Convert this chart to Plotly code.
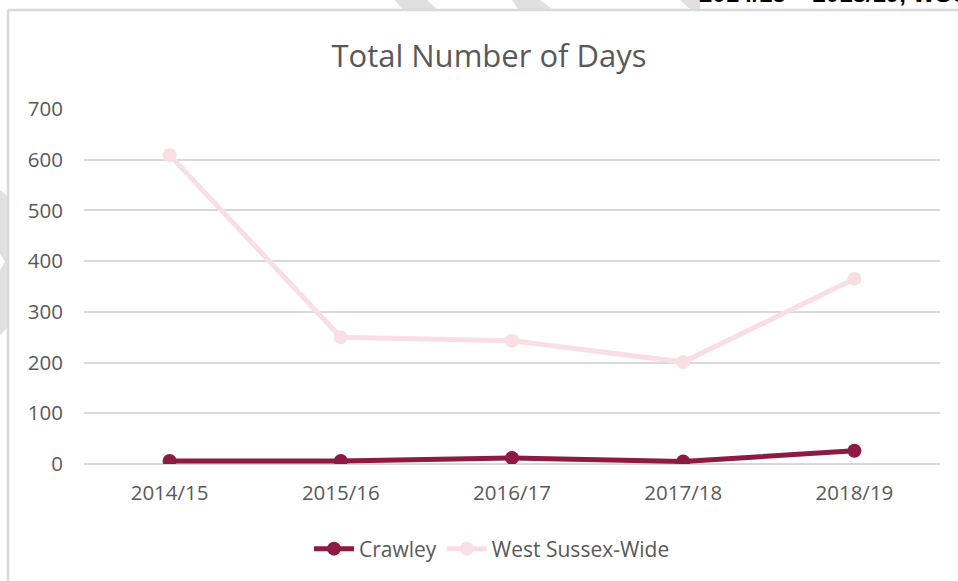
import plotly.graph_objects as go

categories = ["2014/15", "2015/16", "2016/17", "2017/18", "2018/19"]
crawley = [6, 6, 12, 5, 26]
west_sussex = [609, 250, 243, 201, 365]
y_ticks = [0, 100, 200, 300, 400, 500, 600, 700]

W, H = 958, 581
L, R, T, B = 84, 18, 109, 117
pw, ph = W - L - R, H - T - B

def px(x):
    return (x - L) / pw

def py(y):
    return (H - B - y) / ph

fig = go.Figure()
fig.add_trace(go.Scatter(
    x=categories, y=crawley, name="Crawley", mode="lines+markers",
    line=dict(color="#8C1A42", width=5),
    marker=dict(size=14, color="#8C1A42"),
))
fig.add_trace(go.Scatter(
    x=categories, y=west_sussex, name="West Sussex-Wide", mode="lines+markers",
    line=dict(color="#F9DEE6", width=5),
    marker=dict(size=14, color="#F9DEE6"),
))

font_family = "Open Sans"
grey = "#595959"

# frame of chart area
fig.add_shape(type="line", xref="paper", yref="paper",
              x0=px(8), x1=px(W + 10), y0=py(10), y1=py(10),
              line=dict(color="#D9D9D9", width=2.5), layer="above")
fig.add_shape(type="line", xref="paper", yref="paper",
              x0=px(8), x1=px(8), y0=py(10), y1=py(H + 10),
              line=dict(color="#D9D9D9", width=2.5), layer="above")
# watermark fragments outside the frame
fig.add_shape(type="path", xref="paper", yref="paper",
              path=f"M {px(0)} {py(190)} L {px(7)} {py(196)} L {px(7)} {py(328)} L {px(0)} {py(335)} L {px(0)} {py(270)} L {px(5)} {py(262)} L {px(0)} {py(254)} Z",
              fillcolor="#E0E0E0", line=dict(width=0), layer="below")
fig.add_shape(type="path", xref="paper", yref="paper",
              path=f"M {px(395)} {py(0)} L {px(427)} {py(0)} L {px(437)} {py(9)} L {px(402)} {py(9)} Z",
              fillcolor="#E0E0E0", line=dict(width=0), layer="below")
fig.add_shape(type="path", xref="paper", yref="paper",
              path=f"M {px(512)} {py(0)} L {px(540)} {py(0)} L {px(552)} {py(9)} L {px(518)} {py(9)} Z",
              fillcolor="#E0E0E0", line=dict(width=0), layer="below")
fig.add_shape(type="path", xref="paper", yref="paper",
              path=f"M {px(680)} {py(0)} L {px(700)} {py(0)} L {px(700)} {py(9)} L {px(690)} {py(9)} Z",
              fillcolor="#E0E0E0", line=dict(width=0), layer="below")

fig.add_annotation(text="2014/15 – 2018/19, WSCC", xref="paper", yref="paper",
                   x=px(697), y=py(9), xanchor="left", yanchor="bottom",
                   showarrow=False,
                   font=dict(family="Liberation Sans", size=24, color="#000000", weight="bold"))

fig.update_layout(
    width=W, height=H,
    margin=dict(l=L, r=R, t=T, b=B),
    paper_bgcolor="white", plot_bgcolor="white",
    title=dict(text="Total Number of Days", x=489 / W, xanchor="center",
               y=1 - 56 / H, yanchor="middle",
               font=dict(family=font_family, size=31, color=grey)),
    font=dict(family=font_family, color=grey),
    showlegend=True,
    legend=dict(orientation="h", x=px(492), xanchor="center",
                y=py(549), yanchor="middle",
                font=dict(size=21, color=grey), itemwidth=40,
                bgcolor="rgba(0,0,0,0)"),
    xaxis=dict(range=[-0.5, 4.5], showgrid=False, showline=False, zeroline=False,
               tickfont=dict(size=20.5, color=grey), ticks="",
               ticklabelstandoff=14),
    yaxis=dict(range=[0, 700], tickvals=y_ticks, showgrid=True,
               gridcolor="#D9D9D9", gridwidth=1.5, zeroline=True,
               zerolinecolor="#D9D9D9", zerolinewidth=1.5, showline=False,
               tickfont=dict(size=20.5, color=grey), ticks="",
               ticklabelstandoff=20),
)

fig.write_html("out.html", config={"displayModeBar": False},
               post_script="document.body.style.margin='0';")
